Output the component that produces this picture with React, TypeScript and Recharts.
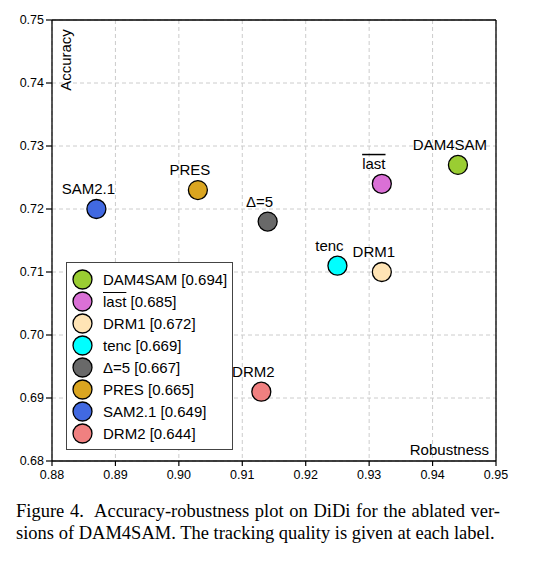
import React from 'react'
import { ScatterChart, Scatter, XAxis, YAxis, CartesianGrid, ReferenceLine, Legend } from 'recharts'

const names = ['DAM4SAM', 'last', 'DRM1', 'tenc', 'Δ=5', 'PRES', 'SAM2.1', 'DRM2']
const robustness = [0.944, 0.932, 0.932, 0.925, 0.914, 0.903, 0.887, 0.913]
const accuracy = [0.727, 0.724, 0.71, 0.711, 0.718, 0.723, 0.72, 0.691]
const quality = [0.694, 0.685, 0.672, 0.669, 0.667, 0.665, 0.649, 0.644]
const colors = ['#9acd32', '#da70d6', '#ffe4b5', '#00ffff', '#696969', '#daa520', '#4169e1', '#f08080']

const xTicks = [0.88, 0.89, 0.9, 0.91, 0.92, 0.93, 0.94, 0.95]
const yTicks = [0.68, 0.69, 0.7, 0.71, 0.72, 0.73, 0.74, 0.75]

const SANS = '"Liberation Sans", Arial, Helvetica, sans-serif'
const SERIF = '"Liberation Serif", "Times New Roman", serif'

const points = names.map((name, i) => ({
  name,
  x: robustness[i],
  y: accuracy[i],
  q: quality[i],
  color: colors[i],
}))

function Dot(props: any) {
  const { cx, cy, payload } = props
  if (cx == null || cy == null) return null
  return (
    <g>
      <text
        x={cx - 8}
        y={cy - 15}
        textAnchor="middle"
        fontSize={15}
        fontFamily={SANS}
        fill="#000"
        style={payload.name === 'last' ? { textDecoration: 'overline' } : undefined}
      >
        {payload.name}
      </text>
      <circle cx={cx} cy={cy} r={9.5} fill={payload.color} stroke="#000" strokeWidth={1.3} />
    </g>
  )
}

function LegendBox() {
  return (
    <div
      style={{
        boxSizing: 'border-box',
        width: 167,
        height: 188,
        border: '1.2px solid #444',
        background: '#fff',
        padding: '5px 0 0 5px',
        fontFamily: SANS,
        fontSize: 15,
        color: '#000',
      }}
    >
      {points.map((p) => (
        <div key={p.name} style={{ display: 'flex', alignItems: 'center', height: 22 }}>
          <svg width={21} height={21} style={{ flexShrink: 0 }}>
            <circle cx={10.5} cy={10.5} r={9.5} fill={p.color} stroke="#000" strokeWidth={1.3} />
          </svg>
          <span style={{ marginLeft: 10, whiteSpace: 'nowrap' }}>
            <span style={p.name === 'last' ? { textDecoration: 'overline' } : undefined}>{p.name}</span>
            {' '}[{p.q.toFixed(3)}]
          </span>
        </div>
      ))}
    </div>
  )
}

export default function App() {
  const tickStyle = { fill: '#000', fontSize: 12.5, fontFamily: SANS }
  return (
    <div style={{ position: 'absolute', left: 0, top: 0, width: 536, height: 563, background: '#fff' }}>
      <ScatterChart width={536} height={490} margin={{ top: 20, right: 40, bottom: 0, left: 0 }}>
        <CartesianGrid stroke="#cccccc" strokeDasharray="4 3" />
        <XAxis
          type="number"
          dataKey="x"
          domain={[0.88, 0.95]}
          ticks={xTicks}
          tickFormatter={(v: number) => v.toFixed(2)}
          interval={0}
          height={29}
          tickSize={5}
          tickMargin={4}
          tick={tickStyle}
          axisLine={{ stroke: '#000', strokeWidth: 1.3 }}
          tickLine={{ stroke: '#000', strokeWidth: 1.2 }}
          allowDataOverflow
        />
        <YAxis
          type="number"
          dataKey="y"
          domain={[0.68, 0.75]}
          ticks={yTicks}
          tickFormatter={(v: number) => v.toFixed(2)}
          interval={0}
          width={52}
          tickSize={6}
          tickMargin={2}
          tick={tickStyle}
          axisLine={{ stroke: '#000', strokeWidth: 1.3 }}
          tickLine={{ stroke: '#000', strokeWidth: 1.2 }}
          allowDataOverflow
        />
        <ReferenceLine y={0.75} stroke="#000" strokeWidth={1.3} />
        <ReferenceLine x={0.95} stroke="#000" strokeWidth={1.3} />
        <Scatter data={points} shape={Dot} isAnimationActive={false} />
        <Legend
          layout="vertical"
          align="center"
          verticalAlign="middle"
          content={() => <LegendBox />}
          wrapperStyle={{ left: 66, top: 262, width: 167, height: 188 }}
        />
      </ScatterChart>
      <svg
        width={536}
        height={490}
        style={{ position: 'absolute', left: 0, top: 0, pointerEvents: 'none' }}
      >
        <text x={71} y={60} transform="rotate(-90 71 60)" textAnchor="middle" fontSize={15} fontFamily={SANS} fill="#000">
          Accuracy
        </text>
        <text x={489} y={455} textAnchor="end" fontSize={15} fontFamily={SANS} fill="#000">
          Robustness
        </text>
      </svg>
      <div
        style={{
          position: 'absolute',
          left: 16,
          top: 500,
          width: 484,
          fontFamily: SERIF,
          fontSize: 18.5,
          lineHeight: '22px',
          color: '#000',
        }}
      >
        <div style={{ whiteSpace: 'nowrap', textAlign: 'justify', textAlignLast: 'justify' }}>
          Figure 4.&nbsp; Accuracy-robustness plot on DiDi for the ablated ver-
        </div>
        <div style={{ whiteSpace: 'nowrap' }}>sions of DAM4SAM. The tracking quality is given at each label.</div>
      </div>
    </div>
  )
}
